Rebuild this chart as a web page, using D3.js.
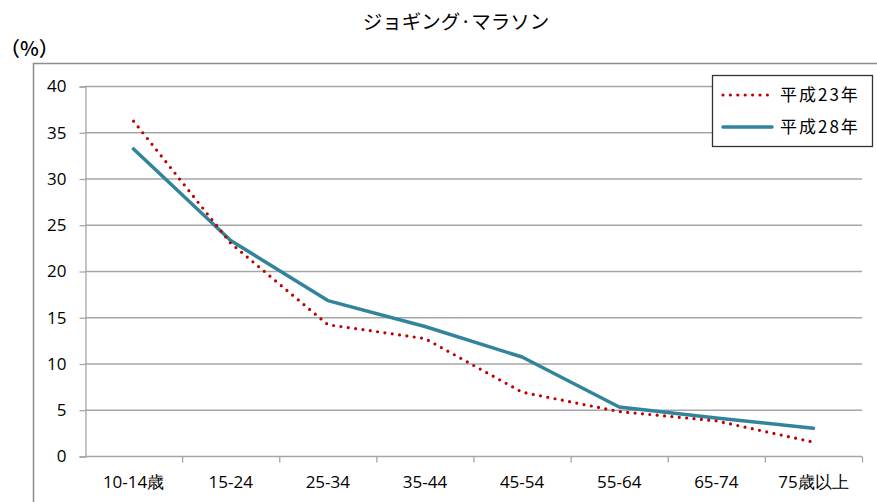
<!DOCTYPE html>
<html>
<head>
<meta charset="utf-8">
<script src="https://d3js.org/d3.v7.min.js"></script>
<style>
  body { margin: 0; background: #fff; }
  text { font-family: "Open Sans", "Noto Sans", sans-serif; }
  .jp { font-family: "Noto Sans CJK JP", sans-serif; }
</style>
</head>
<body>
<div id="chart"></div>
<script>
const categories = ['10-14歳', '15-24', '25-34', '35-44', '45-54', '55-64', '65-74', '75歳以上'];
const h23 = [36.2, 23.0, 14.2, 12.7, 6.9, 4.8, 3.8, 1.5];
const h28 = [33.2, 23.3, 16.8, 14.0, 10.7, 5.3, 4.1, 3.0];
const seriesNames = ['平成23年', '平成28年'];
const yTicks = [0, 5, 10, 15, 20, 25, 30, 35, 40];

const W = 877, H = 502;
const plot = {left: 85, right: 862, top: 86, bottom: 456};

const svg = d3.select('#chart').append('svg')
  .attr('width', W).attr('height', H);

// outer chart frame
svg.append('rect')
  .attr('x', 33.5).attr('y', 63.5)
  .attr('width', 900).attr('height', 500)
  .attr('fill', 'none').attr('stroke', '#8c8c8c').attr('stroke-width', 1.5);

svg.append('text').attr('class', 'jp')
  .attr('x', 456).attr('y', 29)
  .attr('text-anchor', 'middle').attr('font-size', 19.5)
  .text('ジョギング·マラソン');

svg.append('text').attr('class', 'jp')
  .attr('x', 0).attr('y', 56).attr('font-size', 20)
  .attr('font-weight', 500)
  .text('（%）');

const x = d3.scaleBand().domain(categories).range([plot.left, plot.right]);
const y = d3.scaleLinear().domain([0, 40]).range([plot.bottom, plot.top]);

// gridlines
svg.append('g').selectAll('line')
  .data(yTicks.filter(d => d > 0))
  .enter().append('line')
  .attr('x1', plot.left).attr('x2', plot.right)
  .attr('y1', d => y(d) + 0.5).attr('y2', d => y(d) + 0.5)
  .attr('stroke', '#a6a6a6').attr('stroke-width', 1.3);

const yAxis = d3.axisLeft(y).tickValues(yTicks).tickSize(6).tickPadding(13);
const gy = svg.append('g')
  .attr('transform', `translate(${plot.left + 0.5},0.5)`)
  .call(yAxis);
gy.selectAll('line, path').attr('stroke', '#a6a6a6').attr('stroke-width', 1.3);
gy.selectAll('text').attr('font-size', 17).attr('fill', '#000')
  .style('font-family', '"Open Sans", sans-serif');

// x axis with ticks at category boundaries
const gx = svg.append('g')
  .attr('transform', `translate(0,${plot.bottom + 0.5})`);
gx.append('line')
  .attr('x1', plot.left).attr('x2', plot.right)
  .attr('stroke', '#a6a6a6').attr('stroke-width', 1.3);
gx.selectAll('.tk')
  .data(categories)
  .enter().append('line')
  .attr('x1', d => x(d) + x.bandwidth() + 0.5)
  .attr('x2', d => x(d) + x.bandwidth() + 0.5)
  .attr('y1', 0).attr('y2', 6)
  .attr('stroke', '#a6a6a6').attr('stroke-width', 1.3);
gx.selectAll('.lbl')
  .data(categories)
  .enter().append('text')
  .attr('x', d => x(d) + x.bandwidth() / 2)
  .attr('y', 31)
  .attr('text-anchor', 'middle').attr('font-size', 17)
  .text(d => d);

const line = d3.line()
  .x((d, i) => x(categories[i]) + x.bandwidth() / 2)
  .y(d => y(d));

svg.append('path').datum(h28)
  .attr('d', line)
  .attr('fill', 'none').attr('stroke', '#31849b')
  .attr('stroke-width', 3.5).attr('stroke-linejoin', 'round').attr('stroke-linecap', 'round');

svg.append('path').datum(h23)
  .attr('d', line)
  .attr('fill', 'none').attr('stroke', '#c00000')
  .attr('stroke-width', 3.2).attr('stroke-linecap', 'round')
  .attr('stroke-dasharray', '0 7.4');

// legend
const lg = svg.append('g');
lg.append('rect')
  .attr('x', 712.5).attr('y', 75.5).attr('width', 160).attr('height', 71)
  .attr('fill', '#fff').attr('stroke', '#333').attr('stroke-width', 1.3);
const legendStyles = [
  {color: '#c00000', dash: '0 7.4', w: 3.2},
  {color: '#31849b', dash: null, w: 3.5}
];
seriesNames.forEach((name, i) => {
  const ly = 95 + i * 32;
  lg.append('line')
    .attr('x1', 723).attr('x2', 772).attr('y1', ly).attr('y2', ly)
    .attr('stroke', legendStyles[i].color).attr('stroke-width', legendStyles[i].w)
    .attr('stroke-linecap', 'round')
    .attr('stroke-dasharray', legendStyles[i].dash);
  lg.append('text').attr('class', 'jp')
    .attr('x', 780).attr('y', ly + 6).attr('font-size', 17)
    .attr('letter-spacing', 2)
    .text(name);
});
</script>
</body>
</html>
